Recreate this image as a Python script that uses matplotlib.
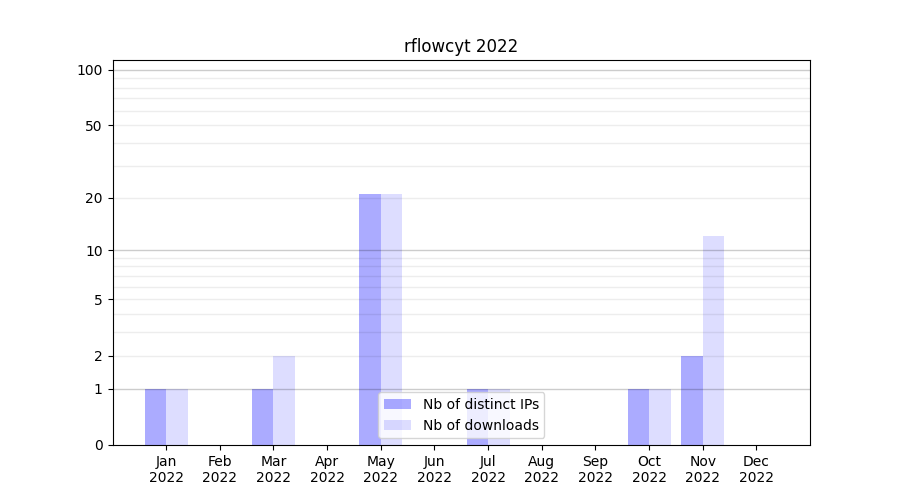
import numpy as np
import matplotlib
matplotlib.use("Agg")
import matplotlib.pyplot as plt

months = ["Jan", "Feb", "Mar", "Apr", "May", "Jun",
          "Jul", "Aug", "Sep", "Oct", "Nov", "Dec"]
year = "2022"
distinct_ips = [1, 0, 1, 0, 21, 0, 1, 0, 0, 1, 2, 0]
downloads = [1, 0, 2, 0, 21, 0, 1, 0, 0, 1, 12, 0]

tick_values = [0, 1, 2, 5, 10, 20, 50, 100]
major_lines = [1, 10, 100]
minor_lines = list(range(2, 10)) + list(range(20, 100, 10))


def fwd(y):
    return np.log10(1 + np.clip(y, 0, None))


def inv(y):
    return 10 ** y - 1


fig, ax = plt.subplots(figsize=(9, 5), dpi=100)
x = np.arange(len(months))
ax.bar(x - 0.2, distinct_ips, width=0.4, color="blue", alpha=0.33,
       label="Nb of distinct IPs")
ax.bar(x + 0.2, downloads, width=0.4, color="blue", alpha=0.133,
       label="Nb of downloads")

ax.set_yscale("function", functions=(fwd, inv))
ax.set_ylim(0, 113)
ax.set_xlim(-1, 12)
ax.set_yticks(tick_values)
ax.set_yticklabels([str(v) for v in tick_values])
ax.minorticks_off()

# grid lines drawn over the bars
for v in minor_lines:
    ax.axhline(v, color="black", alpha=0.07, linewidth=1, zorder=1.5)
for v in major_lines:
    ax.axhline(v, color="black", alpha=0.2, linewidth=1, zorder=1.5)

ax.set_xticks(x)
ax.set_xticklabels([f"{m}\n{year}" for m in months])
ax.set_title("rflowcyt 2022")
ax.legend(loc="lower center")

plt.savefig("out.png")
